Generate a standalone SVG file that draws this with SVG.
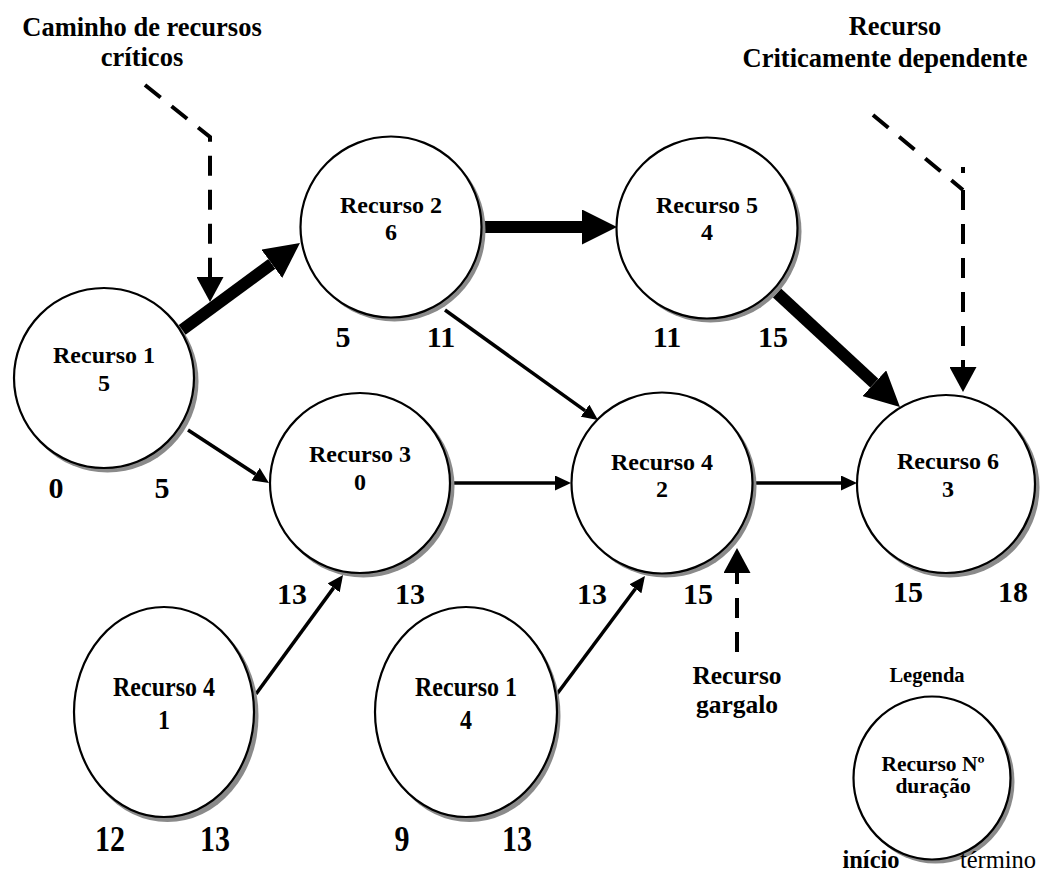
<svg xmlns="http://www.w3.org/2000/svg" width="1042" height="883" viewBox="0 0 1042 883">
  <style>
    text { font-family: "Times New Roman", "Liberation Serif", Times, "Noto Serif", "DejaVu Serif", serif; fill: #000; text-anchor: middle; }
    .lbl { font-size: 24px; font-weight: bold; }
    .num { font-size: 30px; font-weight: bold; }
    .note { font-size: 26.5px; font-weight: bold; }
    .leg { font-size: 21.5px; font-weight: bold; }
    .shadow { fill: #8a8a8a; }
    .disk { fill: #fff; stroke: #000; stroke-width: 2.2; }
    .thick { stroke: #000; stroke-width: 12; fill: none; }
    .thin { stroke: #000; stroke-width: 3.5; fill: none; }
    .dash { stroke: #000; stroke-width: 4; fill: none; stroke-dasharray: 20 14; }
  </style>
  <defs>
    <marker id="headThick" markerUnits="userSpaceOnUse" markerWidth="35" markerHeight="35" refX="0" refY="17.5" orient="auto">
      <path d="M0,0 L35,17.5 L0,35 Z" fill="#000"/>
    </marker>
    <marker id="headThin" markerUnits="userSpaceOnUse" markerWidth="16" markerHeight="15" refX="0" refY="7.5" orient="auto">
      <path d="M0,0 L16,7.5 L0,15 Z" fill="#000"/>
    </marker>
    <marker id="headDash" markerUnits="userSpaceOnUse" markerWidth="25" markerHeight="27" refX="0" refY="13.5" orient="auto">
      <path d="M0,0 L25,13.5 L0,27 Z" fill="#000"/>
    </marker>
  </defs>

  <!-- connectors -->
  <g id="connectors">
    <line class="thin" x1="188" y1="430" x2="255.6" y2="474.2" marker-end="url(#headThin)"/>
    <line class="thin" x1="445" y1="310" x2="585" y2="410.7" marker-end="url(#headThin)"/>
    <line class="thin" x1="451" y1="483" x2="555" y2="483" marker-end="url(#headThin)"/>
    <line class="thin" x1="755" y1="483" x2="841" y2="483" marker-end="url(#headThin)"/>
    <line class="thin" x1="256" y1="694" x2="333.6" y2="587.9" marker-end="url(#headThin)"/>
    <line class="thin" x1="557" y1="694" x2="635.4" y2="588.8" marker-end="url(#headThin)"/>
    <line class="thick" x1="182" y1="330" x2="271.8" y2="263.8" marker-end="url(#headThick)"/>
    <line class="thick" x1="485" y1="227" x2="582" y2="227" marker-end="url(#headThick)"/>
    <line class="thick" x1="777" y1="293" x2="874.3" y2="383.2" marker-end="url(#headThick)"/>
  </g>

  <!-- annotation pointers -->
  <g id="pointers">
    <polyline class="dash" points="145,85 210,137 210,277" marker-end="url(#headDash)"/>
    <line class="dash" x1="873" y1="115" x2="963" y2="190"/>
    <line class="dash" x1="963" y1="167" x2="963" y2="367" style="stroke-dasharray: 6 17 20 14 20 14 20 14 20 14 20 14 20 14 20 14" marker-end="url(#headDash)"/>
    <line class="dash" x1="737" y1="652" x2="737" y2="573" marker-end="url(#headDash)"/>
  </g>

  <g id="note-critical-path">
    <text class="note" x="142" y="36">Caminho de recursos</text>
    <text class="note" x="142" y="66">críticos</text>
  </g>
  <g id="note-dependent">
    <text class="note" x="895" y="35">Recurso</text>
    <text class="note" x="885" y="67">Criticamente dependente</text>
  </g>
  <g id="note-bottleneck">
    <text class="note" x="737" y="684" style="font-size:25.5px">Recurso</text>
    <text class="note" x="737" y="713" style="font-size:25.5px">gargalo</text>
  </g>

  <g id="node-r1">
    <circle class="shadow" cx="107.5" cy="381.5" r="91"/>
    <circle class="disk" cx="104" cy="378" r="90"/>
    <text class="lbl" x="104" y="363">Recurso 1</text>
    <text class="lbl" x="104" y="391">5</text>
    <text class="num" x="56" y="498">0</text>
    <text class="num" x="162" y="498">5</text>
  </g>
  <g id="node-r2">
    <circle class="shadow" cx="394.5" cy="230.5" r="91"/>
    <circle class="disk" cx="391" cy="227" r="90.5"/>
    <text class="lbl" x="391" y="213">Recurso 2</text>
    <text class="lbl" x="391" y="240">6</text>
    <text class="num" x="343" y="347">5</text>
    <text class="num" x="441" y="347">11</text>
  </g>
  <g id="node-r5">
    <circle class="shadow" cx="710.5" cy="231.5" r="91"/>
    <circle class="disk" cx="707" cy="228" r="90.5"/>
    <text class="lbl" x="707" y="213">Recurso 5</text>
    <text class="lbl" x="707" y="240">4</text>
    <text class="num" x="667" y="347">11</text>
    <text class="num" x="773" y="347">15</text>
  </g>
  <g id="node-r3">
    <circle class="shadow" cx="363.5" cy="486.5" r="91"/>
    <circle class="disk" cx="360" cy="483" r="90"/>
    <text class="lbl" x="360" y="462">Recurso 3</text>
    <text class="lbl" x="360" y="490">0</text>
    <text class="num" x="292" y="604">13</text>
    <text class="num" x="410" y="604">13</text>
  </g>
  <g id="node-r4">
    <circle class="shadow" cx="665.5" cy="486.5" r="91"/>
    <circle class="disk" cx="662" cy="483" r="90.5"/>
    <text class="lbl" x="662" y="470">Recurso 4</text>
    <text class="lbl" x="662" y="497">2</text>
    <text class="num" x="592" y="604">13</text>
    <text class="num" x="698" y="604">15</text>
  </g>
  <g id="node-r6">
    <circle class="shadow" cx="949.5" cy="487.5" r="90"/>
    <circle class="disk" cx="946" cy="484" r="89"/>
    <text class="lbl" x="948" y="469">Recurso 6</text>
    <text class="lbl" x="948" y="497">3</text>
    <text class="num" x="908" y="602">15</text>
    <text class="num" x="1013" y="602">18</text>
  </g>
  <g id="node-r4b">
    <ellipse class="shadow" cx="167.5" cy="716" rx="91" ry="106"/>
    <ellipse class="disk" cx="164" cy="712" rx="90" ry="105"/>
    <text class="lbl" transform="translate(164,696) scale(1,1.17)">Recurso 4</text>
    <text class="lbl" transform="translate(164,729) scale(1,1.17)">1</text>
    <text class="num" transform="translate(110,851) scale(1,1.17)">12</text>
    <text class="num" transform="translate(215,851) scale(1,1.17)">13</text>
  </g>
  <g id="node-r1b">
    <ellipse class="shadow" cx="469.5" cy="716" rx="91" ry="106"/>
    <ellipse class="disk" cx="466" cy="712" rx="91" ry="105"/>
    <text class="lbl" transform="translate(466,696) scale(1,1.17)">Recurso 1</text>
    <text class="lbl" transform="translate(466,729) scale(1,1.17)">4</text>
    <text class="num" transform="translate(402,851) scale(1,1.17)">9</text>
    <text class="num" transform="translate(517,851) scale(1,1.17)">13</text>
  </g>
  <g id="legend">
    <text class="leg" x="927" y="682" style="font-size:20.5px">Legenda</text>
    <ellipse class="shadow" cx="935.5" cy="781.5" rx="79" ry="82"/>
    <ellipse class="disk" cx="932" cy="778" rx="78.5" ry="81.5"/>
    <text class="leg" x="933" y="771">Recurso Nº</text>
    <text class="leg" x="933" y="793">duração</text>
    <text x="871" y="868" style="font-size:24.5px;font-weight:bold">início</text>
    <text x="998" y="868" style="font-size:24.5px">término</text>
  </g>
</svg>
